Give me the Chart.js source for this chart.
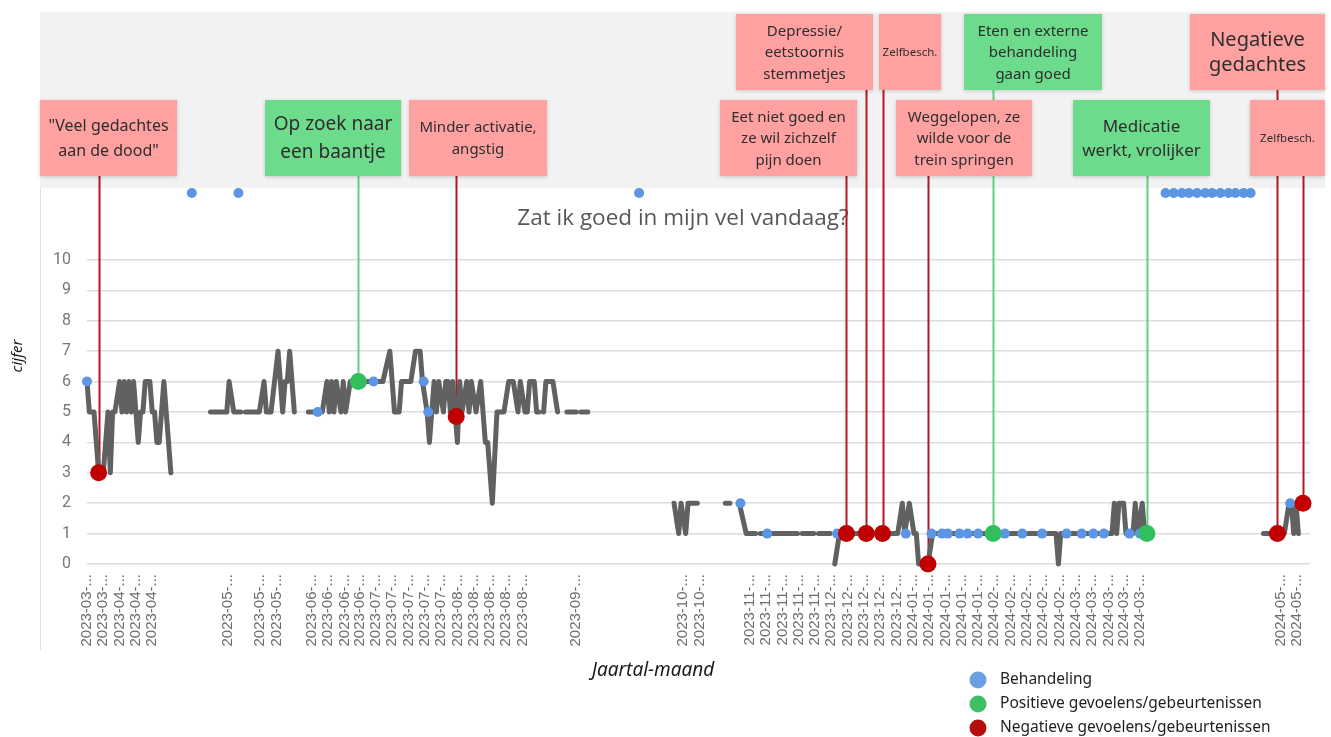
<!DOCTYPE html>
<html>
<head>
<meta charset="utf-8">
<title>Zat ik goed in mijn vel vandaag?</title>
<script src="https://cdn.jsdelivr.net/npm/chart.js@4.4.1/dist/chart.umd.min.js"></script>
<style>
  html, body { margin: 0; padding: 0; background: #fff; }
  #wrap { position: relative; width: 1331px; height: 737px; }
</style>
</head>
<body>
<div id="wrap"><canvas id="chart" width="1331" height="737"></canvas></div>
<script>
// x = dagnummer vanaf de eerste meting, null = geen meting (gat in de lijn)
const scoreDays = [
  0, 1, 3, 5, 7, 9, 10, 11, 12, 14, 15, 16, 17, 18, 19, 20, 22, 23, 24, 25, 27, 28, 29, 30, 31, 33, 35, 36, 37,
  53, 60, 61, 63, 66, 67, 68, 74, 76, 77, 79, 82, 84, 85, 86, 87, 89, 90,
  95, 101, 103, 104, 105, 106, 107, 109, 110, 111, 113, 127, 130, 132, 134, 135, 139, 141, 143, 144, 146, 147,
  149, 150, 151, 153, 154, 155, 156, 157, 159, 160, 161, 163, 164, 165, 167, 169, 171, 172, 174, 176, 179, 181,
  183, 185, 186, 188, 189, 190, 192, 193, 194, 195, 196, 197, 200, 202, 203, 206, 210, 211, 212, 215, 216,
  252, 254, 255, 257, 258, 262, 263, 274, 276, 277, 280, 283, 287, 288, 289, 292, 293, 294, 305, 306, 307, 312,
  313, 314, 319, 320, 321, 323, 348, 350, 351, 353, 355, 356, 357, 361, 363, 416, 417, 418, 440, 441, 442, 443,
  445, 446, 449, 450, 451, 453, 454, 455,
  505, 514, 516, 517, 518, 519, 520
];
const scores = [
  6, 5, 5, 3, 3, 5, 3, 5, 5, 6, 5, 6, 5, 6, 5, 6, 4, 5, 5, 6, 6, 5, 5, 4, 4, 6, 4, 3, null,
  5, 5, 6, 5, 5, null, 5, 5, 6, 5, 5, 7, 5, 6, 6, 7, 5, null,
  5, 5, 6, 5, 6, 5, 6, 5, 6, 5, 6, 6, 7, 5, 5, 6, 6, 7, 7, 6, 5, 4,
  6, 5, 6, 5, 6, 6, 5, 6, 4, 6, 5, 6, 5, 6, 5, 6, 4, 4, 2, 5, 5, 6,
  6, 5, 6, 5, 5, 6, 6, 5, 5, null, 5, 6, 6, 5, null, 5, 5, null, 5, 5, null,
  2, 1, 2, 1, 2, 2, null, 2, 2, null, 2, 1, 1, null, 1, 1, null, 1, 1, null, 1, 1,
  null, 1, 1, null, 0, 1, 1, 2, 1, 2, 1, 1, 0, 0, 1, 1, 0, 1, 1, 2, 1, 2,
  2, 1, 1, 2, 1, 2, 1, null,
  1, 1, 2, 2, 1, 2, 1
];

// Behandeling (blauwe punten); 12.2 = boven de schaal
const behDays = [0, 45, 65, 99, 123, 144.5, 146.5, 237, 280.5, 292, 322, 351.5, 362.5, 367, 369.5, 374.5, 378,
  382.5, 394, 401.5, 410, 420.5, 427, 432, 436.5, 447.5, 452, 463, 466.5, 470, 473, 476.5, 480, 483, 486.5,
  490, 493, 496.5, 499.5, 516.5];
const behScores = [6, 12.2, 12.2, 5, 6, 6, 5, 12.2, 2, 1, 1, 1, 1, 1, 1, 1, 1,
  1, 1, 1, 1, 1, 1, 1, 1, 1, 1, 12.2, 12.2, 12.2, 12.2, 12.2, 12.2, 12.2, 12.2,
  12.2, 12.2, 12.2, 12.2, 2];

// gebeurtenissen
const eventDays = [5, 116.5, 158.5, 326, 334.5, 341.5, 361, 389, 455, 511, 522];
const eventScores = [3, 6, 4.85, 1, 1, 1, 0, 1, 1, 1, 2];
const eventKinds = ['neg', 'pos', 'neg', 'neg', 'neg', 'neg', 'neg', 'pos', 'pos', 'neg', 'neg'];
const eventTexts = [
  ['"Veel gedachtes', 'aan de dood"'],
  ['Op zoek naar', 'een baantje'],
  ['Minder activatie,', 'angstig'],
  ['Eet niet goed en', 'ze wil zichzelf', 'pijn doen'],
  ['Depressie/', 'eetstoornis', 'stemmetjes'],
  ['Zelfbesch.'],
  ['Weggelopen, ze', 'wilde voor de', 'trein springen'],
  ['Eten en externe', 'behandeling', 'gaan goed'],
  ['Medicatie', 'werkt, vrolijker'],
  ['Negatieve', 'gedachtes'],
  ['Zelfbesch.']
];

const tickDays = [0, 7, 14, 21, 28, 60.5, 74, 81.5, 96.5, 103.5, 110.5, 117, 124, 131, 138, 145, 152, 159, 166,
  173, 180, 187, 210, 256, 263, 284.5, 291.5, 298.5, 305.5, 312.5, 319.5, 326.5, 333.5, 340.5, 347.5, 354.5,
  361.5, 368.5, 375.5, 382.5, 389.5, 396.5, 403.5, 410.5, 417.5, 424.5, 431.5, 438.5, 445, 452, 512.5, 519.5];
const tickLabels = ['2023-03-...', '2023-03-...', '2023-04-...', '2023-04-...', '2023-04-...', '2023-05-...',
  '2023-05-...', '2023-05-...', '2023-06-...', '2023-06-...', '2023-06-...', '2023-06-...', '2023-07-...',
  '2023-07-...', '2023-07-...', '2023-07-...', '2023-07-...', '2023-08-...', '2023-08-...', '2023-08-...',
  '2023-08-...', '2023-08-...', '2023-09-...', '2023-10-...', '2023-10-...', '2023-11-...', '2023-11-...',
  '2023-11-...', '2023-11-...', '2023-11-...', '2023-12-...', '2023-12-...', '2023-12-...', '2023-12-...',
  '2023-12-...', '2024-01-...', '2024-01-...', '2024-01-...', '2024-01-...', '2024-01-...', '2024-02-...',
  '2024-02-...', '2024-02-...', '2024-02-...', '2024-02-...', '2024-03-...', '2024-03-...', '2024-03-...',
  '2024-03-...', '2024-03-...', '2024-05-...', '2024-05-...'];
const yTicks = [0, 1, 2, 3, 4, 5, 6, 7, 8, 9, 10];

// plaats van de tekstvakken boven de grafiek
const boxes = [
  { x: 40, y: 100, w: 137, size: 16, lh: 25 },
  { x: 265, y: 100, w: 136, size: 19, lh: 28 },
  { x: 409, y: 100, w: 138, size: 15, lh: 22 },
  { x: 720, y: 100, w: 137, size: 15, lh: 21.5 },
  { x: 736, y: 14, w: 137, size: 15, lh: 21.5 },
  { x: 879, y: 14, w: 62, size: 11.5, lh: 14 },
  { x: 896, y: 100, w: 136, size: 15, lh: 21.5 },
  { x: 964, y: 14, w: 138, size: 15, lh: 21.5 },
  { x: 1073, y: 100, w: 137, size: 17, lh: 24 },
  { x: 1190, y: 14, w: 135, size: 20, lh: 25 },
  { x: 1250, y: 100, w: 75, size: 11.5, lh: 14 }
];
const BOX_H = 76;

const RED = '#c00000', GREEN = '#30bf5c', BLUE = '#5b95e3', LINE = '#616161';

const toPoints = (xs, ys) => xs.map((x, i) => ({ x: x, y: ys[i] }));
const negPoints = eventDays.map((d, i) => ({ x: d, y: eventScores[i] })).filter((p, i) => eventKinds[i] === 'neg');
const posPoints = eventDays.map((d, i) => ({ x: d, y: eventScores[i] })).filter((p, i) => eventKinds[i] === 'pos');

const overlay = {
  id: 'overlay',
  beforeDraw(chart) {
    const c = chart.ctx;
    c.save();
    c.fillStyle = '#ffffff';
    c.fillRect(0, 0, chart.width, chart.height);
    c.fillStyle = '#f2f2f2';
    c.fillRect(40, 12, 1285, 176);
    c.strokeStyle = '#e2e2e2';
    c.lineWidth = 1;
    c.beginPath();
    c.moveTo(40.5, 188);
    c.lineTo(40.5, 650);
    c.stroke();
    c.fillStyle = '#575757';
    c.font = '22.5px "Open Sans"';
    c.textAlign = 'center';
    c.textBaseline = 'middle';
    c.fillText('Zat ik goed in mijn vel vandaag?', 683, 219);
    c.restore();
  },
  beforeDatasetsDraw(chart) {
    const c = chart.ctx;
    const xs = chart.scales.x, ys = chart.scales.y;
    c.save();
    eventDays.forEach((d, i) => {
      const px = Math.round(xs.getPixelForValue(d)) + 0.5;
      const py = ys.getPixelForValue(eventScores[i]);
      c.strokeStyle = eventKinds[i] === 'pos' ? '#5fd07d' : '#b3191c';
      c.lineWidth = 2;
      c.beginPath();
      c.moveTo(px, boxes[i].y + BOX_H);
      c.lineTo(px, py);
      c.stroke();
    });
    c.restore();
  },
  afterDraw(chart) {
    const c = chart.ctx;
    c.save();
    // tekstvakken
    eventTexts.forEach((lines, i) => {
      const b = boxes[i];
      c.save();
      c.shadowColor = 'rgba(0,0,0,0.18)';
      c.shadowBlur = 4;
      c.shadowOffsetY = 1;
      c.fillStyle = eventKinds[i] === 'pos' ? '#6cdb8b' : '#ffa1a1';
      c.fillRect(b.x, b.y, b.w, BOX_H);
      c.restore();
      c.fillStyle = '#2e2e2e';
      c.font = b.size + 'px "Noto Sans"';
      c.textAlign = 'center';
      c.textBaseline = 'middle';
      const cy = b.y + BOX_H / 2 + 1;
      lines.forEach((t, j) => {
        c.fillText(t, b.x + b.w / 2, cy + (j - (lines.length - 1) / 2) * b.lh);
      });
    });

    // astitels
    c.fillStyle = '#1a1a1a';
    c.font = 'italic 19px "Noto Sans"';
    c.textAlign = 'center';
    c.textBaseline = 'middle';
    c.fillText('Jaartal-maand', 653, 671);
    c.save();
    c.translate(18, 356);
    c.rotate(-Math.PI / 2);
    c.font = 'italic 15px "Noto Sans"';
    c.fillText('cijfer', 0, 0);
    c.restore();

    // legenda
    const legend = [
      ['Behandeling', '#6a9fe2'],
      ['Positieve gevoelens/gebeurtenissen', '#3cc064'],
      ['Negatieve gevoelens/gebeurtenissen', '#b80d0d']
    ];
    c.textAlign = 'left';
    c.font = '15.5px "Noto Sans"';
    legend.forEach((item, i) => {
      const y = 680 + i * 24;
      c.fillStyle = item[1];
      c.beginPath();
      c.arc(978, y, 8.5, 0, Math.PI * 2);
      c.fill();
      c.fillStyle = '#1f1f1f';
      c.fillText(item[0], 1000, y);
    });
    c.restore();
  }
};

new Chart(document.getElementById('chart'), {
  type: 'line',
  data: {
    datasets: [
      {
        label: 'Negatieve gevoelens/gebeurtenissen',
        data: negPoints,
        showLine: false,
        pointRadius: 8.5,
        pointBorderWidth: 0,
        backgroundColor: RED,
        borderColor: RED,
        clip: false
      },
      {
        label: 'Positieve gevoelens/gebeurtenissen',
        data: posPoints,
        showLine: false,
        pointRadius: 8.5,
        pointBorderWidth: 0,
        backgroundColor: GREEN,
        borderColor: GREEN,
        clip: false
      },
      {
        label: 'Behandeling',
        data: toPoints(behDays, behScores),
        showLine: false,
        pointRadius: 5,
        pointBorderWidth: 0,
        backgroundColor: BLUE,
        borderColor: BLUE,
        clip: false
      },
      {
        label: 'cijfer',
        data: toPoints(scoreDays, scores),
        borderColor: LINE,
        borderWidth: 5,
        borderJoinStyle: 'round',
        borderCapStyle: 'round',
        pointRadius: 0,
        spanGaps: false,
        tension: 0,
        clip: false
      }
    ]
  },
  options: {
    responsive: false,
    animation: false,
    layout: { padding: { left: 40, top: 187, right: 21, bottom: 0 } },
    plugins: {
      legend: { display: false },
      tooltip: { enabled: false }
    },
    scales: {
      x: {
        type: 'linear',
        min: 0,
        max: 525,
        afterBuildTicks: (scale) => { scale.ticks = tickDays.map(v => ({ value: v })); },
        afterFit: (scale) => { scale.height = 173; },
        grid: { display: false },
        border: { display: false },
        ticks: {
          autoSkip: false,
          minRotation: 90,
          maxRotation: 90,
          padding: 2,
          color: '#6d6d6d',
          font: { family: 'Liberation Sans', size: 15 },
          callback: (value, index) => tickLabels[index]
        }
      },
      y: {
        min: 0,
        max: 12.4,
        afterBuildTicks: (scale) => { scale.ticks = yTicks.map(v => ({ value: v })); },
        afterFit: (scale) => { scale.width = 47; },
        grid: { color: '#dddddd', lineWidth: 1.5, drawTicks: false },
        border: { display: false },
        ticks: {
          padding: 16,
          color: '#777777',
          font: { family: 'Roboto', size: 16 }
        }
      }
    }
  },
  plugins: [overlay]
});
</script>
</body>
</html>
